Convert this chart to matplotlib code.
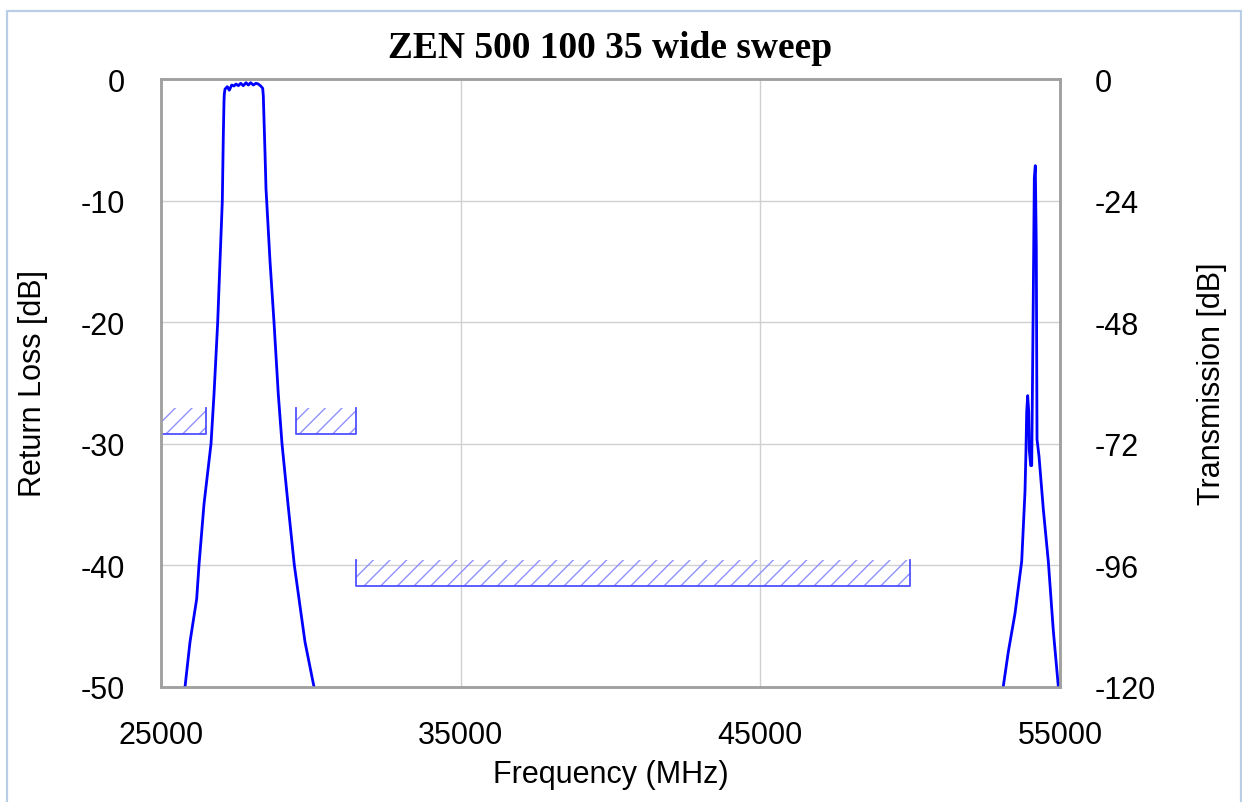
import numpy as np
import matplotlib
matplotlib.use('Agg')
import matplotlib.pyplot as plt
from matplotlib.patches import Rectangle

# passband response (MHz, dB)
pass_freq = [25720, 25801, 25968, 26191, 26268, 26435, 26669, 26769, 26892, 26969,
             27046, 27079, 27102, 27112, 27136, 27212, 27279, 27359, 27436, 27503,
             27580, 27660, 27746, 27837, 27913, 27993, 28080, 28170, 28247, 28327,
             28394, 28414, 28437, 28470, 28504, 28527, 28637, 28771, 28914, 29038,
             29238, 29448, 29605, 29805, 30106, 30173]
pass_db = [-126.0, -120.0, -111.1, -102.6, -95.9, -83.9, -72.0, -62.2, -48.0, -35.9,
           -24.1, -11.3, -4.5, -3.0, -2.0, -1.52, -2.21, -1.19, -1.38, -0.99,
           -1.32, -0.85, -1.32, -0.73, -1.19, -0.73, -1.19, -0.85, -0.99, -1.38,
           -1.84, -3.3, -7.9, -14.4, -21.7, -24.1, -35.9, -48.0, -62.2, -72.0,
           -83.9, -95.9, -102.6, -111.1, -120.0, -122.4]

# spurious response near 54 GHz
spur_freq = [53050, 53107, 53274, 53498, 53722, 53832, 53865, 53889, 53922, 53955,
             53975, 54022, 54056, 54109, 54143, 54176, 54209, 54233, 54300, 54443,
             54610, 54777, 54944, 55000]
spur_db = [-122.0, -119.9, -113.1, -105.5, -95.2, -81.4, -73.2, -65.6, -62.5, -65.6,
           -73.2, -76.3, -76.3, -42.6, -19.5, -17.1, -33.3, -71.1, -74.5, -84.9,
           -95.2, -108.9, -119.9, -121.5]

# rejection masks
mask_start = [25000, 29500, 31500]
mask_stop = [26500, 31500, 50000]
mask_level = [-70, -70, -100]

rl_ticks = [0, -10, -20, -30, -40, -50]
tr_ticks = [0, -24, -48, -72, -96, -120]
f_ticks = [25000, 35000, 45000, 55000]

plt.rcParams['font.family'] = ['Liberation Sans', 'DejaVu Sans']
plt.rcParams['axes.unicode_minus'] = False
plt.rcParams['hatch.linewidth'] = 1.0

fig = plt.figure(figsize=(12.42, 8.03), dpi=100)
ax = fig.add_axes([161/1242, 1 - 688/803, 899/1242, 608/803])
ax2 = ax.twinx()

ax.set_xlim(25000, 55000)
ax.set_ylim(-50, 0)
ax2.set_ylim(-120, 0)
ax.set_xticks(f_ticks)
ax.set_yticks(rl_ticks)
ax2.set_yticks(tr_ticks)
ax.grid(True, color='#d0d0d0', lw=1.0)

for a in (ax, ax2):
    for s in a.spines.values():
        s.set_color('#a0a0a0')
        s.set_linewidth(1.8)
ax.tick_params(axis='both', length=0, labelsize=22, pad=26)
ax2.tick_params(axis='y', length=0, labelsize=22, pad=25)
ax.tick_params(axis='x', pad=24)

# masks
for f0, f1, lev in zip(mask_start, mask_stop, mask_level):
    ax2.fill_between([f0, f1], [lev, lev], [lev + 5, lev + 5], facecolor='none',
                     edgecolor='#9090ff', hatch='//', linewidth=0)
    ax2.plot([f0, f0, f1, f1], [lev + 5, lev, lev, lev + 5], color='#5050ff', lw=1.3)

ax2.plot(pass_freq, pass_db, color='#0000ff', lw=2)
ax2.plot(spur_freq, spur_db, color='#0000ff', lw=2)

ax.set_xlabel('Frequency (MHz)', fontsize=22, va='center')
ax.xaxis.set_label_coords(0.5, -0.143)
ax.set_ylabel('Return Loss [dB]', fontsize=22, va='center')
ax.yaxis.set_label_coords(-0.1424, 0.5)
ax2.set_ylabel('Transmission [dB]', fontsize=22, va='center')
ax2.yaxis.set_label_coords(1.169, 0.5)

fig.text(0.4915, 1 - 48/803, 'ZEN 500 100 35 wide sweep', ha='center', va='center',
         fontsize=27, fontweight='bold', family='Liberation Serif')

fig.patches.append(Rectangle((6.5/1242, -0.02), 1234/1242, 1.02 - 11.5/803,
                             transform=fig.transFigure, fill=False,
                             edgecolor='#b9cde5', lw=1.6))

fig.savefig('out.png', dpi=100)
